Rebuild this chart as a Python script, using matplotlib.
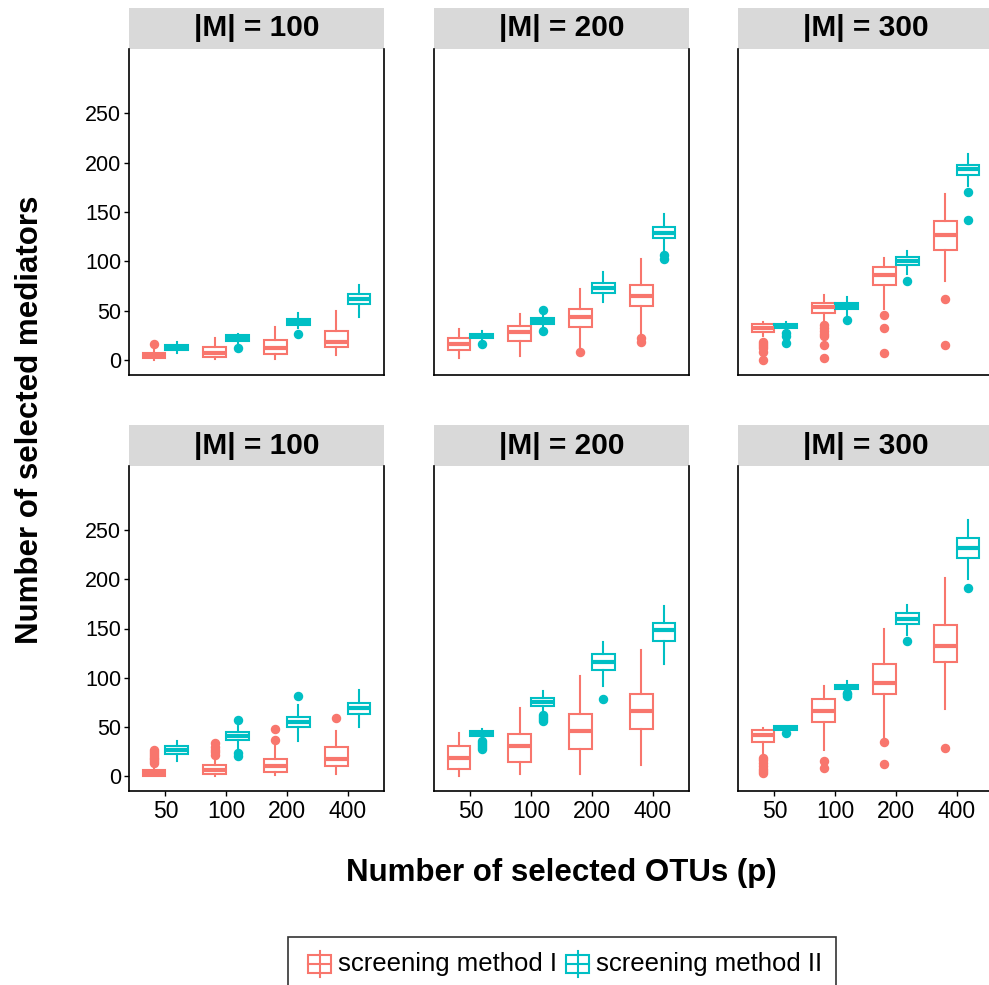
import matplotlib
matplotlib.use("Agg")
import matplotlib.pyplot as plt
from matplotlib.patches import Rectangle

plt.rcParams["font.family"] = ["Liberation Sans", "DejaVu Sans"]

# ---- data (whislo, q1, median, q3, whishi) ----
P_LABELS = ["50", "100", "200", "400"]
M_LABELS = ["|M| = 100", "|M| = 200", "|M| = 300"]
METHODS = ["screening method I", "screening method II"]

# top row
TOP_M100_I = [(0, 2, 4, 7, 13), (1, 3.5, 7.5, 13, 22.5), (1.5, 6, 12, 20, 34), (5, 13.5, 18, 30, 50)]
TOP_M100_I_OUT = [[16], [], [], []]
TOP_M100_II = [(7, 10.5, 12.5, 15, 18.5), (17, 19, 22, 25, 27), (33, 36, 39, 42, 48), (43.5, 57, 62, 67, 76)]
TOP_M100_II_OUT = [[], [12], [26.5], []]

TOP_M200_I = [(2, 10.5, 16, 22, 32), (4, 19, 29, 34.5, 47), (13, 34, 43.5, 51.5, 72), (28, 54.5, 65, 76.5, 102)]
TOP_M200_I_OUT = [[], [], [8.5], [22, 18]]
TOP_M200_II = [(19, 22, 24.5, 27, 30), (33, 37, 40, 42.5, 46), (59, 68.5, 73, 78, 89), (112, 124, 129, 135, 147.5)]
TOP_M200_II_OUT = [[16], [50.5, 29.5], [], [106, 102.5]]

TOP_M300_I = [(24.5, 29, 32.5, 36.5, 39), (40, 48, 53.5, 58, 66), (51.5, 76, 86.5, 94.5, 103.5), (80.5, 111.5, 127, 141, 168)]
TOP_M300_I_OUT = [[18, 16, 14, 12.5, 8, 0.5], [36, 33, 30, 27, 24, 15.5, 2.5], [46, 32.5, 7.5], [61.5, 15.5]]
TOP_M300_II = [(32, 33, 35, 37, 38.5), (46, 52, 54.5, 58, 64), (87, 96, 100.5, 104, 111), (176.5, 187.5, 193.5, 198, 209)]
TOP_M300_II_OUT = [[28, 24, 17.5], [41], [80], [170, 142]]

# bottom row
BOT_M100_I = [(0, 0.5, 3, 6.5, 10.5), (0, 2, 6.5, 11, 20.5), (1, 4.5, 10.5, 18, 33.5), (2, 10.5, 18, 29.5, 46)]
BOT_M100_I_OUT = [[13, 15, 17, 19, 21, 23, 25, 27], [22, 25, 27, 30, 34], [36.5, 47.5], [59]]
BOT_M100_II = [(15, 23, 27, 31, 35.5), (27, 36.5, 40.5, 45, 51), (36, 49.5, 55.5, 60.5, 72), (49.5, 63.5, 69.5, 74.5, 87.5)]
BOT_M100_II_OUT = [[], [57.5, 24, 20.5], [81.5], []]

BOT_M200_I = [(0, 7, 19, 30.5, 43.5), (2, 14.5, 30.5, 43, 69.5), (2, 27.5, 46, 63, 102), (11, 47.5, 66, 83.5, 128)]
BOT_M200_I_OUT = [[], [], [], []]
BOT_M200_II = [(39, 41, 43.5, 46, 48), (66, 71, 75, 79, 86.5), (91.5, 108, 116, 124, 136), (114, 137.5, 148.5, 155.5, 173)]
BOT_M200_II_OUT = [[36, 34, 32, 30, 28], [62, 60, 58, 56], [78.5], []]

BOT_M300_I = [(22, 35, 42, 47, 49), (26.5, 55, 66, 78, 91.5), (39, 83, 95, 114, 149.5), (68.5, 116, 132, 154, 201)]
BOT_M300_I_OUT = [[19, 16, 13, 10, 7, 5, 3], [15.5, 8], [35, 12], [29]]
BOT_M300_II = [(46, 47, 48.5, 50.5, 51), (87.5, 89, 91, 93, 96.5), (143.5, 155, 160, 165.5, 173.5), (200, 222, 232, 242, 260)]
BOT_M300_II_OUT = [[43.5], [85, 83, 81], [137.5], [191.5]]

PANELS = [
    [(TOP_M100_I, TOP_M100_I_OUT, TOP_M100_II, TOP_M100_II_OUT),
     (TOP_M200_I, TOP_M200_I_OUT, TOP_M200_II, TOP_M200_II_OUT),
     (TOP_M300_I, TOP_M300_I_OUT, TOP_M300_II, TOP_M300_II_OUT)],
    [(BOT_M100_I, BOT_M100_I_OUT, BOT_M100_II, BOT_M100_II_OUT),
     (BOT_M200_I, BOT_M200_I_OUT, BOT_M200_II, BOT_M200_II_OUT),
     (BOT_M300_I, BOT_M300_I_OUT, BOT_M300_II, BOT_M300_II_OUT)],
]

COLORS = ["#F8766D", "#00BFC4"]
W, H = 989, 985


def fx(px):
    return px / W


def fy(py):
    return 1 - py / H


def stats_of(five, outs):
    return [dict(whislo=a, q1=b, med=c, q3=d, whishi=e, fliers=o)
            for (a, b, c, d, e), o in zip(five, outs)]


def draw_boxes(ax, five, outs, offset, color):
    pos = [i + 1 + offset for i in range(len(five))]
    ax.bxp(stats_of(five, outs), positions=pos, widths=0.375, showcaps=False,
           patch_artist=True, manage_ticks=False,
           boxprops=dict(facecolor="white", edgecolor=color, linewidth=1.5),
           whiskerprops=dict(color=color, linewidth=1.5),
           medianprops=dict(color=color, linewidth=3.0, solid_capstyle="butt"),
           flierprops=dict(marker="o", markerfacecolor=color, markeredgecolor=color,
                           markersize=5.8, linestyle="none"))


fig = plt.figure(figsize=(W / 100, H / 100), dpi=100)
fig.patch.set_facecolor("white")

cols_x = [129, 434, 738]
rows_y = [(49, 375), (466, 791)]
pw = 255
strip_h = 41

for r, (y0, y1) in enumerate(rows_y):
    for c, x0 in enumerate(cols_x):
        ax = fig.add_axes([fx(x0), fy(y1), pw / W, (y1 - y0) / H])
        Ia, Io, IIa, IIo = PANELS[r][c]
        draw_boxes(ax, Ia, Io, -0.1875, COLORS[0])
        draw_boxes(ax, IIa, IIo, 0.1875, COLORS[1])
        ax.set_xlim(0.4, 4.6)
        ax.set_ylim(-15, 315)
        ax.set_yticks([0, 50, 100, 150, 200, 250])
        ax.set_xticks([1, 2, 3, 4])
        ax.set_xticklabels(P_LABELS)
        ax.spines["top"].set_visible(False)
        for s in ("left", "right", "bottom"):
            ax.spines[s].set_linewidth(1.2)
            ax.spines[s].set_color("black")
        ax.tick_params(axis="both", length=3.5, width=1, color="black",
                       labelsize=15.5, pad=2, labelcolor="black")
        ax.tick_params(axis="x", bottom=(r == 1), labelbottom=(r == 1), pad=3,
                       labelsize=16.5)
        ax.tick_params(axis="y", left=(c == 0), labelleft=(c == 0))
        # facet strip
        sh = strip_h / (y1 - y0)
        ax.add_patch(Rectangle((0, 1), 1, sh, transform=ax.transAxes,
                               facecolor="#D9D9D9", edgecolor="none", clip_on=False))
        ax.text(0.5, 1 + sh / 2, M_LABELS[c], transform=ax.transAxes,
                ha="center", va="center", fontsize=21.5, fontweight="bold")

fig.text(fx(30), fy(420), "Number of selected mediators", rotation=90,
         ha="center", va="center", fontsize=22.5, fontweight="bold")
fig.text(fx(561), fy(873), "Number of selected OTUs (p)",
         ha="center", va="center", fontsize=22.5, fontweight="bold")

# legend (drawn by hand to get the ggplot box key)
lx0, lx1, ly0, ly1 = 288, 836, 937, 995
lax = fig.add_axes([fx(lx0), fy(ly1), (lx1 - lx0) / W, (ly1 - ly0) / H])
lax.set_xlim(lx0, lx1)
lax.set_ylim(ly1, ly0)
lax.axis("off")
lax.add_patch(Rectangle((lx0, ly0), lx1 - lx0, ly1 - ly0, facecolor="white",
                        edgecolor="#333333", linewidth=1.2, clip_on=False))
keys_x = [(308, 331, 338), (566, 589, 596)]
for (kx0, kx1, tx), col, lab in zip(keys_x, COLORS, METHODS):
    km = (kx0 + kx1) / 2
    lax.plot([km, km], [951, 977], color=col, linewidth=1.5)
    lax.add_patch(Rectangle((kx0, 955), kx1 - kx0, 18, facecolor="white",
                            edgecolor=col, linewidth=1.5))
    lax.plot([kx0, kx1], [964, 964], color=col, linewidth=1.5)
    lax.text(tx, 964, lab, ha="left", va="center", fontsize=18.5)

fig.savefig("out.png", dpi=100)
